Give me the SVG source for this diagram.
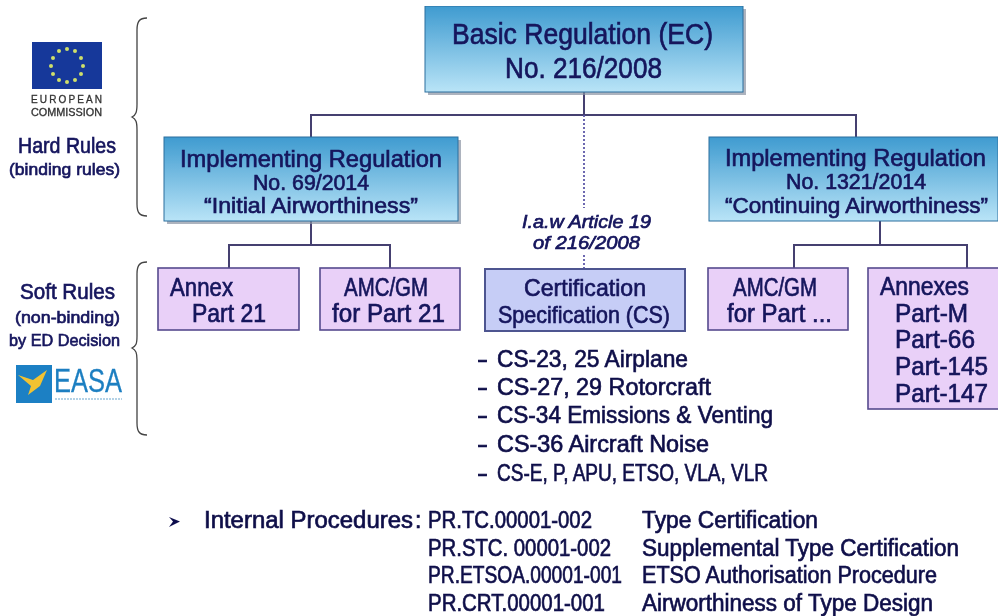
<svg xmlns="http://www.w3.org/2000/svg" width="998" height="616" viewBox="0 0 998 616">
<style>
text{font-family:"Liberation Sans",Arial,sans-serif;fill:#14145c;stroke:#14145c;stroke-width:.65;}
.c{stroke:#45406f;stroke-width:2;fill:none}
.d{stroke:#5c58a8;stroke-width:1.8;fill:none;stroke-dasharray:2 2}
.b{stroke:#444;stroke-width:1.3;fill:none}
.blue{fill:url(#g);stroke:#2d6f9e;stroke-width:1}
.sh{fill:#8a93a3;opacity:.7}
.p{fill:#e9d0f8;stroke:#564a8e;stroke-width:1.6}
.l{fill:#c6cdf6;stroke:#4d5590;stroke-width:2}
.k{fill:#0c0c48;stroke:#0c0c48}
.s28{font-size:29px}.s24{font-size:25px}.s23{font-size:24px}.s22{font-size:22px}.s20{font-size:22px}.s18{font-size:18px}
.n{stroke:none}
</style>
<defs>
<linearGradient id="g" x1="0" y1="0" x2="0" y2="1"><stop offset="0" stop-color="#3f9bd0"/><stop offset="1" stop-color="#b9e4f7"/></linearGradient>
<filter id="soft" x="0" y="0" width="100%" height="100%"><feGaussianBlur stdDeviation="0.45"/></filter>
</defs>
<rect width="998" height="616" fill="#fff"/>
<g filter="url(#soft)">
<g id="connectors">
<path class="c" d="M584 92V115M311 137V115H856V137"/>
<path class="d" d="M584 115V208M584 255V269"/>
<path class="c" d="M311 221V245M229 268V245H390V268"/>
<path class="c" d="M880 221V245M794 268V245H967V268"/>
</g>
<g id="brace-hard"><path class="b" d="M147 18C139 18 137 22 137 30V104C137 112 136 115 132 117C136 119 137 122 137 130V204C137 212 139 216 147 216"/></g>
<g id="brace-soft"><path class="b" d="M147 262C139 262 137 266 137 274V336C137 344 136 346 132 348C136 350 137 353 137 360V423C137 431 139 435 147 435"/></g>
<g id="ec-logo">
<rect x="32" y="42" width="70" height="47" fill="#17399a"/>
<g fill="#cfe06a"><circle cx="67" cy="49" r="2"/><circle cx="75" cy="51" r="2"/><circle cx="81" cy="58" r="2"/><circle cx="83" cy="66" r="2"/><circle cx="81" cy="74" r="2"/><circle cx="75" cy="80" r="2"/><circle cx="67" cy="82" r="2"/><circle cx="59" cy="80" r="2"/><circle cx="53" cy="74" r="2"/><circle cx="51" cy="66" r="2"/><circle cx="53" cy="58" r="2"/><circle cx="59" cy="51" r="2"/></g>
<text x="31" y="103" font-size="10" textLength="71" lengthAdjust="spacing" style="fill:#333;stroke:#333;stroke-width:.3">EUROPEAN</text>
<text x="31" y="116" font-size="10" textLength="71" lengthAdjust="spacingAndGlyphs" style="fill:#333;stroke:#333;stroke-width:.3">COMMISSION</text>
</g>
<g id="hard-rules">
<text x="18" y="153" class="s20" textLength="98" lengthAdjust="spacingAndGlyphs">Hard Rules</text>
<text x="9" y="175" font-size="17" textLength="111" lengthAdjust="spacingAndGlyphs">(binding rules)</text>
</g>
<g id="soft-rules">
<text x="20" y="299" class="s20" textLength="95" lengthAdjust="spacingAndGlyphs">Soft Rules</text>
<text x="15" y="323" font-size="17" textLength="105" lengthAdjust="spacingAndGlyphs">(non-binding)</text>
<text x="9" y="346" font-size="17" textLength="111" lengthAdjust="spacingAndGlyphs">by ED Decision</text>
</g>
<g id="easa-logo">
<rect x="16" y="365" width="36" height="38" fill="#1a80c4"/>
<path d="M18 375L33 380L47 370L40 386L28 395L31 386Z" fill="#f2c230"/>
<text x="54" y="392" font-size="33" textLength="68" lengthAdjust="spacingAndGlyphs" class="n" style="fill:#1d7fc1;stroke:#1d7fc1;stroke-width:.3">EASA</text>
<path d="M55 399H122" stroke="#9cc3de" stroke-width="1.5" stroke-dasharray="2 1"/>
</g>
<g id="basic-regulation">
<rect class="sh" x="428" y="9" width="318" height="86"/>
<rect class="blue" x="425" y="6" width="318" height="86"/>
<text x="452" y="44" class="s28" textLength="261" lengthAdjust="spacingAndGlyphs">Basic Regulation (EC)</text>
<text x="505" y="78" class="s28" textLength="157" lengthAdjust="spacingAndGlyphs">No. 216/2008</text>
</g>
<g id="ir-initial">
<rect class="sh" x="167" y="140" width="294" height="84"/>
<rect class="blue" x="164" y="137" width="294" height="84"/>
<text x="180" y="167" class="s23" textLength="262" lengthAdjust="spacingAndGlyphs">Implementing Regulation</text>
<text x="253" y="190" class="s22" textLength="116" lengthAdjust="spacingAndGlyphs">No. 69/2014</text>
<text x="204" y="213" class="s22" textLength="214" lengthAdjust="spacingAndGlyphs">“Initial Airworthiness”</text>
</g>
<g id="ir-continuing">
<rect class="blue" x="709" y="137" width="289" height="84"/>
<text x="725" y="166" class="s23" textLength="261" lengthAdjust="spacingAndGlyphs">Implementing Regulation</text>
<text x="786" y="189" class="s22" textLength="140" lengthAdjust="spacingAndGlyphs">No. 1321/2014</text>
<text x="725" y="213" class="s22" textLength="263" lengthAdjust="spacingAndGlyphs">“Continuing Airworthiness”</text>
</g>
<g id="annex-21">
<rect class="p" x="158" y="268" width="141" height="62"/>
<text x="170" y="296" class="s24" textLength="63" lengthAdjust="spacingAndGlyphs">Annex</text>
<text x="192" y="322" class="s24" textLength="74" lengthAdjust="spacingAndGlyphs">Part 21</text>
</g>
<g id="amc-21">
<rect class="p" x="320" y="268" width="140" height="62"/>
<text x="344" y="296" class="s24" textLength="84" lengthAdjust="spacingAndGlyphs">AMC/GM</text>
<text x="332" y="322" class="s24" textLength="113" lengthAdjust="spacingAndGlyphs">for Part 21</text>
</g>
<g id="cs">
<rect class="l" x="485" y="269" width="200" height="62"/>
<text x="524" y="296" class="s23" textLength="122" lengthAdjust="spacingAndGlyphs">Certification</text>
<text x="498" y="323" class="s23" textLength="172" lengthAdjust="spacingAndGlyphs">Specification (CS)</text>
</g>
<g id="amc-part">
<rect class="p" x="708" y="268" width="140" height="62"/>
<text x="733" y="296" class="s24" textLength="84" lengthAdjust="spacingAndGlyphs">AMC/GM</text>
<text x="727" y="322" class="s24" textLength="105" lengthAdjust="spacingAndGlyphs">for Part ...</text>
</g>
<g id="annexes">
<rect class="p" x="868" y="268" width="131" height="141"/>
<text x="880" y="295" class="s24" textLength="89" lengthAdjust="spacingAndGlyphs">Annexes</text>
<text x="895" y="322" class="s24" textLength="73" lengthAdjust="spacingAndGlyphs">Part-M</text>
<text x="895" y="348" class="s24" textLength="80" lengthAdjust="spacingAndGlyphs">Part-66</text>
<text x="895" y="375" class="s24" textLength="93" lengthAdjust="spacingAndGlyphs">Part-145</text>
<text x="895" y="402" class="s24" textLength="93" lengthAdjust="spacingAndGlyphs">Part-147</text>
</g>
<g id="article-label" font-style="italic">
<text x="522" y="228" class="s18" textLength="129" lengthAdjust="spacingAndGlyphs">I.a.w Article 19</text>
<text x="533" y="249" class="s18" textLength="107" lengthAdjust="spacingAndGlyphs">of 216/2008</text>
</g>
<g id="cs-list" font-size="24">
<text x="477" y="367" class="k" textLength="11" lengthAdjust="spacingAndGlyphs">-</text>
<text x="497" y="367" class="k" textLength="191" lengthAdjust="spacingAndGlyphs">CS-23, 25 Airplane</text>
<text x="477" y="395" class="k" textLength="11" lengthAdjust="spacingAndGlyphs">-</text>
<text x="497" y="395" class="k" textLength="214" lengthAdjust="spacingAndGlyphs">CS-27, 29 Rotorcraft</text>
<text x="477" y="423" class="k" textLength="11" lengthAdjust="spacingAndGlyphs">-</text>
<text x="497" y="423" class="k" textLength="276" lengthAdjust="spacingAndGlyphs">CS-34 Emissions &amp; Venting</text>
<text x="477" y="452" class="k" textLength="11" lengthAdjust="spacingAndGlyphs">-</text>
<text x="497" y="452" class="k" textLength="212" lengthAdjust="spacingAndGlyphs">CS-36 Aircraft Noise</text>
<text x="477" y="481" class="k" textLength="11" lengthAdjust="spacingAndGlyphs">-</text>
<text x="497" y="481" class="k" textLength="271" lengthAdjust="spacingAndGlyphs">CS-E, P, APU, ETSO, VLA, VLR</text>
</g>
<g id="procedures" font-size="23">
<path d="M169 517L180 521.5L169 527L173 521.5Z" fill="#10104d"/>
<text x="204" y="528" class="k" textLength="209" lengthAdjust="spacingAndGlyphs">Internal Procedures</text>
<text x="415" y="528" class="k">:</text>
<text x="428" y="528" class="k" textLength="164" lengthAdjust="spacingAndGlyphs">PR.TC.00001-002</text>
<text x="428" y="556" class="k" textLength="183" lengthAdjust="spacingAndGlyphs">PR.STC. 00001-002</text>
<text x="428" y="583" class="k" textLength="194" lengthAdjust="spacingAndGlyphs">PR.ETSOA.00001-001</text>
<text x="428" y="611" class="k" textLength="177" lengthAdjust="spacingAndGlyphs">PR.CRT.00001-001</text>
<text x="642" y="528" class="k" textLength="176" lengthAdjust="spacingAndGlyphs">Type Certification</text>
<text x="642" y="556" class="k" textLength="317" lengthAdjust="spacingAndGlyphs">Supplemental Type Certification</text>
<text x="642" y="583" class="k" textLength="295" lengthAdjust="spacingAndGlyphs">ETSO Authorisation Procedure</text>
<text x="642" y="611" class="k" textLength="291" lengthAdjust="spacingAndGlyphs">Airworthiness of Type Design</text>
</g>
</g>
</svg>
